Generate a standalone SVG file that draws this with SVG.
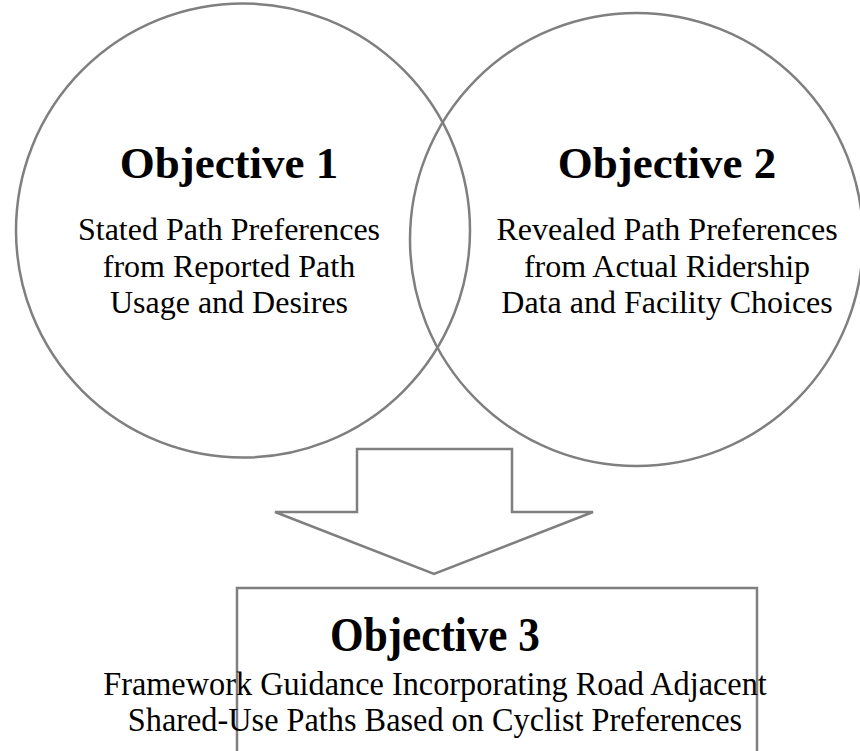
<svg xmlns="http://www.w3.org/2000/svg" width="860" height="751" viewBox="0 0 860 751">
<style>
.shape{fill:none;stroke:#7f7f7f;stroke-width:2.5}
.t{font-family:"Liberation Serif","Times New Roman",serif;fill:#000;text-anchor:middle}
.h{font-size:45px;font-weight:bold}
.b{font-size:32px}
.h3{font-size:48px;font-weight:bold}
.b3{font-size:34px}
</style>
<rect width="860" height="751" fill="#fff"/>
<g id="objective1">
<circle class="shape" cx="243" cy="230.5" r="227"/>
<text class="t h" x="229" y="178">Objective 1</text>
<text class="t b" x="229" y="240">Stated Path Preferences</text>
<text class="t b" x="229" y="277">from Reported Path</text>
<text class="t b" x="229" y="313">Usage and Desires</text>
</g>
<g id="objective2">
<circle class="shape" cx="636.5" cy="239.5" r="226.5"/>
<text class="t h" x="667" y="178">Objective 2</text>
<text class="t b" x="667" y="240">Revealed Path Preferences</text>
<text class="t b" x="667" y="277">from Actual Ridership</text>
<text class="t b" x="667" y="313">Data and Facility Choices</text>
</g>
<g id="connectors">
<polygon class="shape" points="357,449 512,449 512,512 593,512 434,574 275,512 357,512"/>
</g>
<g id="objective3">
<polyline class="shape" points="237,760 237,588 757,588 757,760"/>
<text class="t h3" x="0" y="651" transform="translate(435,0) scale(0.9,1)">Objective 3</text>
<g transform="translate(435,0) scale(0.95,1)">
<text class="t b3" x="0" y="695">Framework Guidance Incorporating Road Adjacent</text>
<text class="t b3" x="0" y="731">Shared-Use Paths Based on Cyclist Preferences</text>
</g>
</g>
</svg>
